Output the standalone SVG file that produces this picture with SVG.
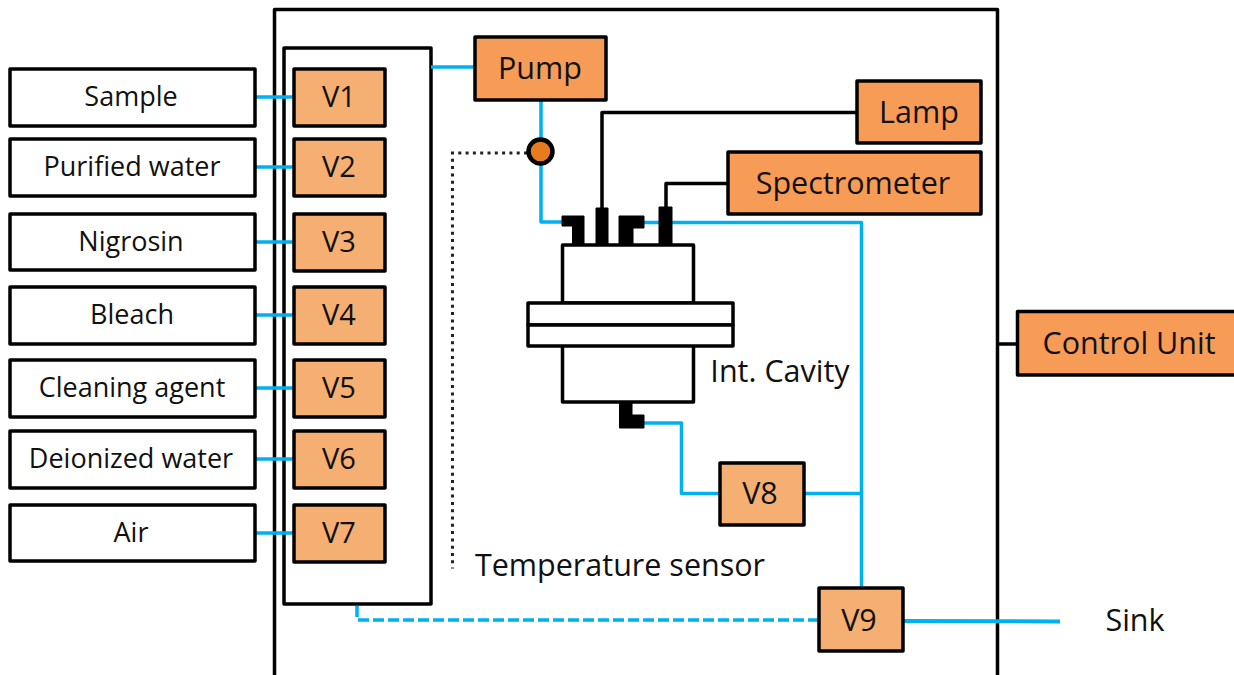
<svg xmlns="http://www.w3.org/2000/svg" width="1234" height="675" viewBox="0 0 1234 675">
<style>
text{font-family:"Open Sans","Noto Sans","Liberation Sans",sans-serif;font-size:27px;fill:#111;text-anchor:middle}
.l{font-size:30.500px}
.n{font-size:29px}
.b{fill:#fff;stroke:#000;stroke-width:3.500;stroke-linejoin:round}
.o{fill:#F79C56;stroke:#000;stroke-width:3.500;stroke-linejoin:round}
.v{fill:#F5AF72;stroke:#000;stroke-width:3.500;stroke-linejoin:round}
.w{fill:none;stroke:#00B0F0;stroke-width:3.500;stroke-linejoin:round}
.k{fill:none;stroke:#000;stroke-width:3.500;stroke-linejoin:round}
.f{fill:#000;stroke:#000;stroke-width:1;stroke-linejoin:round}
</style>
<rect width="1234" height="675" fill="#fff"/>
<g id="enclosure"><path class="k" d="M274.500 675V9.500H997.500V675"/></g>
<g id="valve-block"><rect class="b" x="284" y="48" width="147" height="556"/></g>
<g id="connectors">
<path class="w" d="M255 97H294M255 167H294M255 242H294M255 315H294M255 388H294M255 459H294M255 533H294"/>
<path class="w" d="M431 67H475"/>
<path class="w" d="M541 100V222H562"/>
<path class="w" d="M644 222.500H861.500V588"/>
<path class="w" d="M644 423H681.500V493.500H720"/>
<path class="w" d="M804 493.500H861.500"/>
<path class="w" style="stroke-width:4" d="M903 621L1060 621.500"/>
<path class="w" stroke-dasharray="11 4" d="M357 606V620H819"/>
<path class="k" d="M602 208V112.500H857"/>
<path class="k" d="M666 208V183.500H728"/>
<path class="k" d="M998 344H1017"/>
<path fill="none" stroke="#222" stroke-width="3" stroke-dasharray="3 4.300" d="M527 153H452.500V568.500"/>
</g>
<g id="sample"><rect class="b" x="10" y="69" width="245" height="57"/><text x="131" y="106">Sample</text></g>
<g id="purified-water"><rect class="b" x="10" y="139" width="245" height="57"/><text x="132" y="176">Purified water</text></g>
<g id="nigrosin"><rect class="b" x="10" y="214" width="245" height="56"/><text x="131" y="251">Nigrosin</text></g>
<g id="bleach"><rect class="b" x="10" y="287" width="245" height="57"/><text x="132" y="324">Bleach</text></g>
<g id="cleaning-agent"><rect class="b" x="10" y="360" width="245" height="57"/><text x="132" y="397">Cleaning agent</text></g>
<g id="deionized-water"><rect class="b" x="10" y="431" width="245" height="57"/><text x="131" y="468">Deionized water</text></g>
<g id="air"><rect class="b" x="10" y="505" width="245" height="56"/><text x="131" y="542">Air</text></g>
<g id="v1"><rect class="v" x="294" y="69" width="91" height="57"/><text class="n" x="339" y="107">V1</text></g>
<g id="v2"><rect class="v" x="294" y="139" width="91" height="57"/><text class="n" x="339" y="177">V2</text></g>
<g id="v3"><rect class="v" x="294" y="214" width="91" height="57"/><text class="n" x="339" y="252">V3</text></g>
<g id="v4"><rect class="v" x="294" y="287" width="91" height="57"/><text class="n" x="339" y="325">V4</text></g>
<g id="v5"><rect class="v" x="294" y="360" width="91" height="57"/><text class="n" x="339" y="398">V5</text></g>
<g id="v6"><rect class="v" x="294" y="431" width="91" height="57"/><text class="n" x="339" y="469">V6</text></g>
<g id="v7"><rect class="v" x="294" y="505" width="91" height="57"/><text class="n" x="339" y="543">V7</text></g>
<g id="pump"><rect class="o" x="475" y="37" width="131" height="63"/><text class="l" x="540" y="79">Pump</text></g>
<g id="lamp"><rect class="o" x="857" y="81" width="124" height="62"/><text class="l" x="919" y="123">Lamp</text></g>
<g id="spectrometer"><rect class="o" x="728" y="152" width="253" height="62"/><text class="l" x="853" y="194">Spectrometer</text></g>
<g id="control-unit"><path class="o" d="M1234 311.500H1017.500V375H1234"/><text class="l" x="1129" y="354">Control Unit</text></g>
<g id="v8"><rect class="v" x="720" y="463" width="84" height="62"/><text class="l" x="760" y="504">V8</text></g>
<g id="v9"><rect class="v" x="819" y="588" width="84" height="63"/><text class="l" x="859" y="631">V9</text></g>
<g id="temperature-probe"><circle cx="540.500" cy="151.500" r="12" fill="#E67C1E" stroke="#000" stroke-width="4.500"/></g>
<g id="integrating-cavity">
<path class="f" d="M562 216H584V245H572.500V226H562Z"/>
<path class="f" d="M596 208H608V245H596Z"/>
<path class="f" d="M619 216H644V228H633V245H619Z"/>
<path class="f" d="M659 207H672V245H659Z"/>
<rect class="b" x="562.500" y="245" width="131" height="58"/>
<rect class="b" x="562.500" y="345" width="131" height="57"/>
<rect class="b" x="528" y="303" width="205" height="22"/>
<rect class="b" x="528" y="325" width="205" height="21"/>
<path class="f" d="M619.500 402H632V415H644V428H619.500Z"/>
</g>
<text class="l" x="780" y="382">Int. Cavity</text>
<text class="l" x="620" y="576">Temperature sensor</text>
<text class="l" x="1135" y="631">Sink</text>
</svg>
